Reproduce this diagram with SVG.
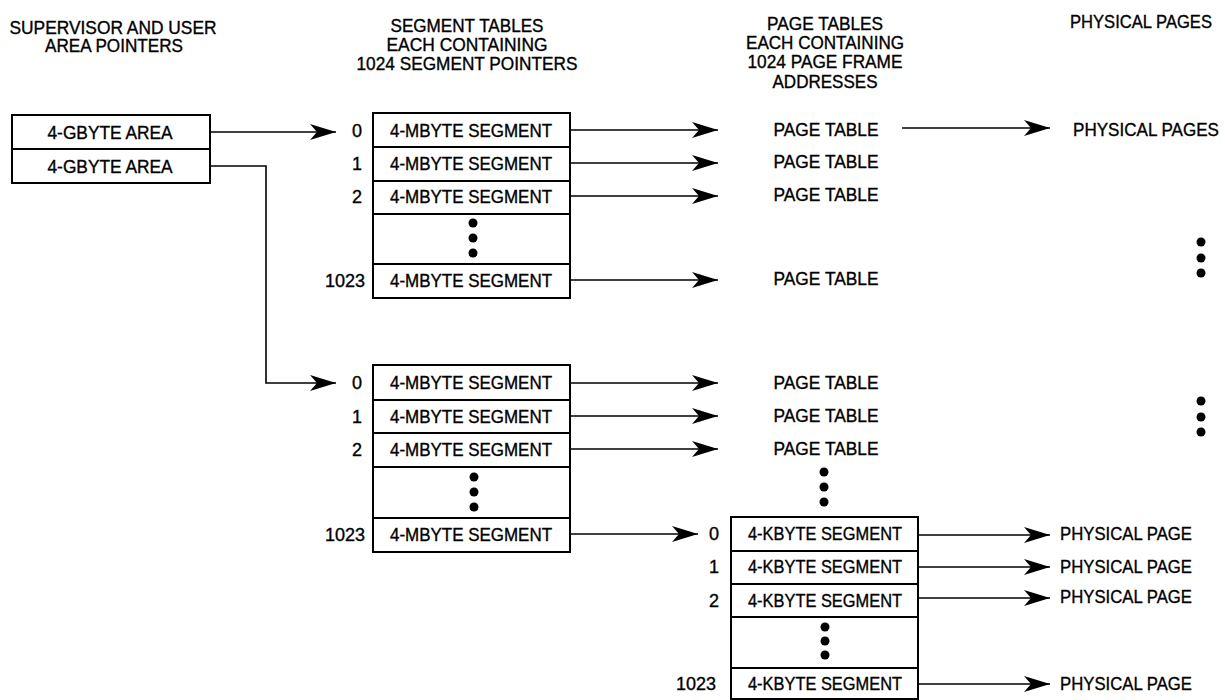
<svg xmlns="http://www.w3.org/2000/svg" width="1225" height="700" viewBox="0 0 1225 700">
<style>
text{font-family:"Liberation Sans",Arial,sans-serif;font-size:18px;fill:#000;stroke:#000;stroke-width:0.35}
.m{text-anchor:middle}
.e{text-anchor:end}
.box{fill:#fff;stroke:#000;stroke-width:2}
.ln{stroke:#000;stroke-width:1.6;fill:none}
.arr{stroke:#000;stroke-width:1.6;fill:none;marker-end:url(#ah)}
.dot{fill:#000}
</style>
<defs>
<marker id="ah" viewBox="0 0 26 16" refX="26" refY="8" markerWidth="26" markerHeight="16" markerUnits="userSpaceOnUse" orient="auto">
<path d="M0,0 L26,8 L0,16 L7,8 Z" fill="#000"/>
</marker>
</defs>
<rect width="1225" height="700" fill="#fff"/>

<g id="headers">
<text class="m" x="113" y="34" textLength="207" lengthAdjust="spacingAndGlyphs">SUPERVISOR AND USER</text>
<text class="m" x="114" y="52" textLength="138" lengthAdjust="spacingAndGlyphs">AREA POINTERS</text>
<text class="m" x="467" y="32" textLength="153" lengthAdjust="spacingAndGlyphs">SEGMENT TABLES</text>
<text class="m" x="467" y="51" textLength="161" lengthAdjust="spacingAndGlyphs">EACH CONTAINING</text>
<text class="m" x="467" y="70" textLength="221" lengthAdjust="spacingAndGlyphs">1024 SEGMENT POINTERS</text>
<text class="m" x="825" y="30" textLength="116" lengthAdjust="spacingAndGlyphs">PAGE TABLES</text>
<text class="m" x="825" y="49" textLength="158" lengthAdjust="spacingAndGlyphs">EACH CONTAINING</text>
<text class="m" x="825" y="68" textLength="155" lengthAdjust="spacingAndGlyphs">1024 PAGE FRAME</text>
<text class="m" x="825" y="88" textLength="105" lengthAdjust="spacingAndGlyphs">ADDRESSES</text>
<text x="1070" y="28" textLength="142" lengthAdjust="spacingAndGlyphs">PHYSICAL PAGES</text>
</g>

<g id="area-pointers">
<rect class="box" x="12" y="115" width="198" height="68"/>
<line class="ln" x1="12" y1="149" x2="210" y2="149" style="stroke-width:2"/>
<text class="m" x="110" y="139" textLength="125" lengthAdjust="spacingAndGlyphs">4-GBYTE AREA</text>
<text class="m" x="110" y="173" textLength="125" lengthAdjust="spacingAndGlyphs">4-GBYTE AREA</text>
</g>

<g id="segment-table-1">
<rect class="box" x="373" y="113" width="197" height="185"/>
<g class="ln" style="stroke-width:2">
<line x1="373" y1="147" x2="570" y2="147"/>
<line x1="373" y1="181" x2="570" y2="181"/>
<line x1="373" y1="214" x2="570" y2="214"/>
<line x1="373" y1="264" x2="570" y2="264"/>
</g>
<text class="m" x="471" y="137" textLength="162" lengthAdjust="spacingAndGlyphs">4-MBYTE SEGMENT</text>
<text class="m" x="471" y="170" textLength="162" lengthAdjust="spacingAndGlyphs">4-MBYTE SEGMENT</text>
<text class="m" x="471" y="203" textLength="162" lengthAdjust="spacingAndGlyphs">4-MBYTE SEGMENT</text>
<circle class="dot" cx="473" cy="223" r="4.5"/>
<circle class="dot" cx="473" cy="238" r="4.5"/>
<circle class="dot" cx="473" cy="253" r="4.5"/>
<text class="m" x="471" y="287" textLength="162" lengthAdjust="spacingAndGlyphs">4-MBYTE SEGMENT</text>
<text class="m" x="357" y="137">0</text>
<text class="m" x="357" y="170">1</text>
<text class="m" x="357" y="203">2</text>
<text class="e" x="365" y="287">1023</text>
</g>

<g id="segment-table-2">
<rect class="box" x="373" y="365" width="197" height="187"/>
<g class="ln" style="stroke-width:2">
<line x1="373" y1="400" x2="570" y2="400"/>
<line x1="373" y1="433" x2="570" y2="433"/>
<line x1="373" y1="467" x2="570" y2="467"/>
<line x1="373" y1="518" x2="570" y2="518"/>
</g>
<text class="m" x="471" y="389" textLength="162" lengthAdjust="spacingAndGlyphs">4-MBYTE SEGMENT</text>
<text class="m" x="471" y="423" textLength="162" lengthAdjust="spacingAndGlyphs">4-MBYTE SEGMENT</text>
<text class="m" x="471" y="456" textLength="162" lengthAdjust="spacingAndGlyphs">4-MBYTE SEGMENT</text>
<circle class="dot" cx="474" cy="477" r="4.5"/>
<circle class="dot" cx="474" cy="492" r="4.5"/>
<circle class="dot" cx="474" cy="507" r="4.5"/>
<text class="m" x="471" y="541" textLength="162" lengthAdjust="spacingAndGlyphs">4-MBYTE SEGMENT</text>
<text class="m" x="357" y="389">0</text>
<text class="m" x="357" y="423">1</text>
<text class="m" x="357" y="456">2</text>
<text class="e" x="365" y="541">1023</text>
</g>

<g id="page-tables">
<text class="m" x="826" y="136" textLength="105" lengthAdjust="spacingAndGlyphs">PAGE TABLE</text>
<text class="m" x="826" y="168" textLength="105" lengthAdjust="spacingAndGlyphs">PAGE TABLE</text>
<text class="m" x="826" y="201" textLength="105" lengthAdjust="spacingAndGlyphs">PAGE TABLE</text>
<text class="m" x="826" y="285" textLength="105" lengthAdjust="spacingAndGlyphs">PAGE TABLE</text>
<text class="m" x="826" y="389" textLength="105" lengthAdjust="spacingAndGlyphs">PAGE TABLE</text>
<text class="m" x="826" y="422" textLength="105" lengthAdjust="spacingAndGlyphs">PAGE TABLE</text>
<text class="m" x="826" y="455" textLength="105" lengthAdjust="spacingAndGlyphs">PAGE TABLE</text>
<circle class="dot" cx="824" cy="472" r="4.5"/>
<circle class="dot" cx="824" cy="487" r="4.5"/>
<circle class="dot" cx="824" cy="502" r="4.5"/>
</g>

<g id="page-table-expanded">
<rect class="box" x="731" y="517" width="187" height="182"/>
<g class="ln" style="stroke-width:2">
<line x1="731" y1="551" x2="918" y2="551"/>
<line x1="731" y1="584" x2="918" y2="584"/>
<line x1="731" y1="617" x2="918" y2="617"/>
<line x1="731" y1="668" x2="918" y2="668"/>
</g>
<text class="m" x="825" y="540" textLength="154" lengthAdjust="spacingAndGlyphs">4-KBYTE SEGMENT</text>
<text class="m" x="825" y="573" textLength="154" lengthAdjust="spacingAndGlyphs">4-KBYTE SEGMENT</text>
<text class="m" x="825" y="607" textLength="154" lengthAdjust="spacingAndGlyphs">4-KBYTE SEGMENT</text>
<circle class="dot" cx="825" cy="627" r="4.5"/>
<circle class="dot" cx="825" cy="641" r="4.5"/>
<circle class="dot" cx="825" cy="655" r="4.5"/>
<text class="m" x="825" y="690" textLength="154" lengthAdjust="spacingAndGlyphs">4-KBYTE SEGMENT</text>
<text class="m" x="714" y="540">0</text>
<text class="m" x="714" y="573">1</text>
<text class="m" x="714" y="607">2</text>
<text class="e" x="716" y="690">1023</text>
</g>

<g id="physical-pages">
<text x="1073" y="136" textLength="146" lengthAdjust="spacingAndGlyphs">PHYSICAL PAGES</text>
<circle class="dot" cx="1201" cy="242" r="4.5"/>
<circle class="dot" cx="1201" cy="258" r="4.5"/>
<circle class="dot" cx="1201" cy="273" r="4.5"/>
<circle class="dot" cx="1201" cy="401" r="4.5"/>
<circle class="dot" cx="1201" cy="417" r="4.5"/>
<circle class="dot" cx="1201" cy="432" r="4.5"/>
<text x="1060" y="540" textLength="132" lengthAdjust="spacingAndGlyphs">PHYSICAL PAGE</text>
<text x="1060" y="573" textLength="132" lengthAdjust="spacingAndGlyphs">PHYSICAL PAGE</text>
<text x="1060" y="603" textLength="132" lengthAdjust="spacingAndGlyphs">PHYSICAL PAGE</text>
<text x="1060" y="690" textLength="132" lengthAdjust="spacingAndGlyphs">PHYSICAL PAGE</text>
</g>

<g id="connectors">
<line class="arr" x1="210" y1="132" x2="336" y2="132"/>
<polyline class="arr" points="210,166 266,166 266,383 336,383"/>
<line class="arr" x1="570" y1="130" x2="718" y2="130"/>
<line class="arr" x1="570" y1="163" x2="718" y2="163"/>
<line class="arr" x1="570" y1="196" x2="718" y2="196"/>
<line class="arr" x1="570" y1="280" x2="718" y2="280"/>
<line class="arr" x1="570" y1="383" x2="718" y2="383"/>
<line class="arr" x1="570" y1="416" x2="718" y2="416"/>
<line class="arr" x1="570" y1="449" x2="718" y2="449"/>
<line class="arr" x1="570" y1="534" x2="698" y2="534"/>
<line class="arr" x1="902" y1="128" x2="1050" y2="128"/>
<line class="arr" x1="918" y1="535" x2="1050" y2="535"/>
<line class="arr" x1="918" y1="567" x2="1050" y2="567"/>
<line class="arr" x1="918" y1="598" x2="1050" y2="598"/>
<line class="arr" x1="918" y1="684" x2="1050" y2="684"/>
</g>
</svg>
